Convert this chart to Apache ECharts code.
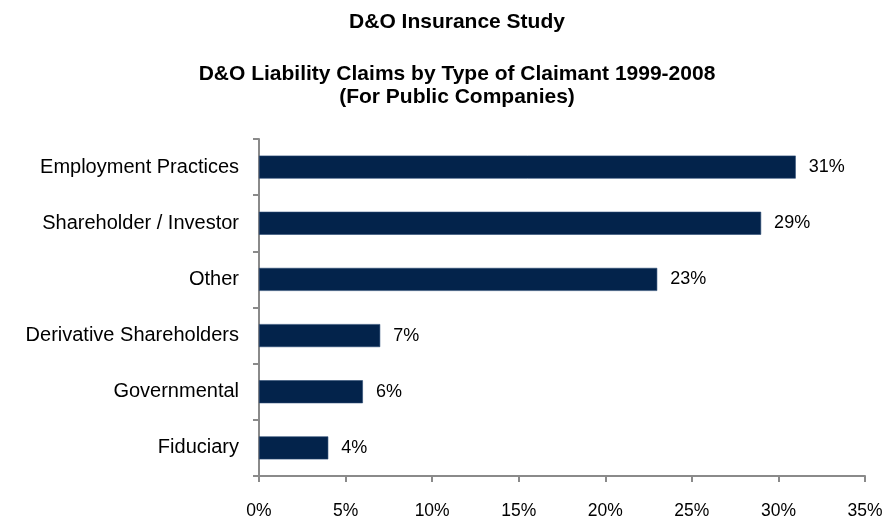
<!DOCTYPE html>
<html>
<head>
<meta charset="utf-8">
<title>D&amp;O Insurance Study</title>
<script src="https://cdn.jsdelivr.net/npm/echarts@6/dist/echarts.min.js"></script>
<style>
  html, body { margin: 0; padding: 0; background: #ffffff; }
  #chart { width: 886px; height: 520px; }
</style>
</head>
<body>
<div id="chart"></div>
<script>
// Claimant types, listed top to bottom
const claimantTypes = [
  'Employment Practices',
  'Shareholder / Investor',
  'Other',
  'Derivative Shareholders',
  'Governmental',
  'Fiduciary'
];
// Share of D&O liability claims, percent
const claimShares = [31, 29, 23, 7, 6, 4];
// Value axis ticks (percent)
const axisMin = 0;
const axisMax = 35;
const axisStep = 5;

const mainTitle = 'D&O Insurance Study';
const chartTitle = 'D&O Liability Claims by Type of Claimant 1999-2008\n(For Public Companies)';

const FONT = '"Liberation Sans", Arial, Helvetica, sans-serif';
const AXIS_GREY = '#8a8a8a';
const BAR_NAVY = '#03234b';

const chart = echarts.init(document.getElementById('chart'), null, { renderer: 'canvas' });

chart.setOption({
  backgroundColor: '#ffffff',
  animation: false,
  title: [
    {
      text: mainTitle,
      left: 452,
      top: 7,
      textAlign: 'center',
      textStyle: { fontFamily: FONT, fontSize: 21, fontWeight: 'bold', color: '#000000', lineHeight: 21 }
    },
    {
      text: chartTitle,
      left: 452,
      top: 57,
      textAlign: 'center',
      textStyle: { fontFamily: FONT, fontSize: 21, fontWeight: 'bold', color: '#000000', lineHeight: 23.5 }
    }
  ],
  grid: { left: 259, right: 21, top: 139, bottom: 42, containLabel: false },
  xAxis: {
    type: 'value',
    min: axisMin,
    max: axisMax,
    interval: axisStep,
    axisLine: { show: true, lineStyle: { color: AXIS_GREY, width: 2 } },
    axisTick: { show: true, length: 6, lineStyle: { color: AXIS_GREY, width: 2 } },
    splitLine: { show: false },
    axisLabel: {
      margin: 26,
      fontFamily: FONT,
      fontSize: 17.5,
      color: '#000000',
      formatter: v => v + '%'
    }
  },
  yAxis: {
    type: 'category',
    data: claimantTypes,
    inverse: true,
    axisLine: { show: true, lineStyle: { color: AXIS_GREY, width: 2 } },
    axisTick: { show: true, length: 6, alignWithLabel: false, lineStyle: { color: AXIS_GREY, width: 2 } },
    axisLabel: {
      margin: 20,
      fontFamily: FONT,
      fontSize: 20,
      color: '#000000'
    },
    splitLine: { show: false }
  },
  series: [
    {
      type: 'bar',
      data: claimShares,
      barWidth: 23,
      itemStyle: { color: BAR_NAVY, borderColor: '#2a4a73', borderWidth: 0.6 },
      label: {
        show: true,
        position: 'right',
        distance: 13,
        fontFamily: FONT,
        fontSize: 18,
        color: '#000000',
        formatter: p => p.value + '%'
      }
    }
  ]
});
</script>
</body>
</html>
